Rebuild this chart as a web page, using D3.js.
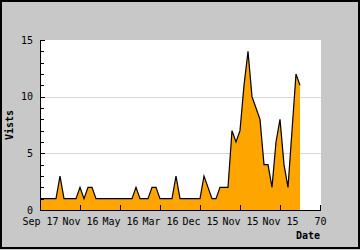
<!DOCTYPE html>
<html><head><meta charset="utf-8">
<script src="https://cdn.jsdelivr.net/npm/d3@7/dist/d3.min.js"></script>
<style>body{margin:0;}svg{display:block;}</style>
</head><body>
<svg id="c" width="360" height="250"></svg>
<script>
const visits = [1,1,1,1,1,3,1,1,1,1,2,1,2,2,1,1,1,1,1,1,1,1,1,1,2,1,1,1,2,2,1,1,1,1,3,1,1,1,1,1,1,3,2,1,1,2,2,2,7,6,7,11,14,10,9,8,4,4,2,6,8,4,2,7,12,11];
const xTickValues = [0,10,20,30,40,50,60,70];
const xTickLabels = ["Sep 17","Nov 16","May 16","Mar 16","Dec 15","Nov 15","Nov 15","70"];
const yTickValues = [0,5,10,15];
const yMinor = [1,2,3,4,6,7,8,9,11,12,13,14];

const svg = d3.select("#c");
const font = "'DejaVu Sans Mono', monospace";
svg.append("rect").attr("x",0).attr("y",0).attr("width",360).attr("height",250).attr("fill","#c8c8c8");
svg.append("rect").attr("x",1).attr("y",1).attr("width",358).attr("height",247)
  .attr("fill","none").attr("stroke","#000").attr("stroke-width",2);

const x = d3.scaleLinear().domain([0,70]).range([40,320]);
const y = d3.scaleLinear().domain([0,15]).range([210,40]);

svg.append("rect").attr("x",40).attr("y",40).attr("width",281).attr("height",170).attr("fill","#fff");

// gridlines
svg.selectAll(".g").data([5,10]).enter().append("line")
  .attr("x1",40).attr("x2",321).attr("y1",d=>Math.round(y(d))+0.5).attr("y2",d=>Math.round(y(d))+0.5)
  .attr("stroke","#d8d8d8").attr("stroke-width",1);

// area
const area = d3.area().x((d,i)=>x(i)).y0(y(0)).y1(d=>y(d));
const line = d3.line().x((d,i)=>x(i)).y(d=>y(d));
svg.append("path").datum(visits).attr("d",area).attr("fill","#ffa500");
svg.append("path").datum(visits).attr("d",line).attr("fill","none").attr("stroke","#000").attr("stroke-width",1.2);

// axes lines
svg.append("line").attr("x1",40.5).attr("x2",40.5).attr("y1",40).attr("y2",210.5).attr("stroke","#000");
svg.append("line").attr("x1",40).attr("x2",321).attr("y1",210.5).attr("y2",210.5).attr("stroke","#000");

// y ticks
svg.selectAll(".ym").data(yMinor).enter().append("line")
  .attr("x1",40).attr("x2",44).attr("y1",d=>Math.round(y(d))+0.5).attr("y2",d=>Math.round(y(d))+0.5).attr("stroke","#000");
svg.selectAll(".yM").data(yTickValues).enter().append("line")
  .attr("x1",40).attr("x2",45).attr("y1",d=>Math.round(y(d))+0.5).attr("y2",d=>Math.round(y(d))+0.5).attr("stroke","#000");
svg.selectAll(".yl").data(yTickValues).enter().append("text")
  .attr("x",33).attr("y",d=>y(d)+3.5).attr("text-anchor","end")
  .attr("font-family",font).attr("font-size",10).attr("fill","#000").text(d=>d);

// x ticks
svg.selectAll(".xt").data(xTickValues).enter().append("line")
  .attr("x1",d=>Math.round(x(d))+0.5).attr("x2",d=>Math.round(x(d))+0.5).attr("y1",205).attr("y2",210).attr("stroke","#000");
svg.selectAll(".xl").data(xTickValues).enter().append("text")
  .attr("x",d=>x(d)+0.5).attr("y",225).attr("text-anchor","middle")
  .attr("font-family",font).attr("font-size",10).attr("fill","#000").text((d,i)=>xTickLabels[i]);

// titles
svg.append("text").attr("x",320).attr("y",239).attr("text-anchor","end")
  .attr("font-family",font).attr("font-size",10).attr("font-weight","bold").text("Date");
svg.append("text").attr("transform","translate(13,125) rotate(-90)").attr("text-anchor","middle")
  .attr("font-family",font).attr("font-size",10).attr("font-weight","bold").text("Vists");
</script>
</body></html>
